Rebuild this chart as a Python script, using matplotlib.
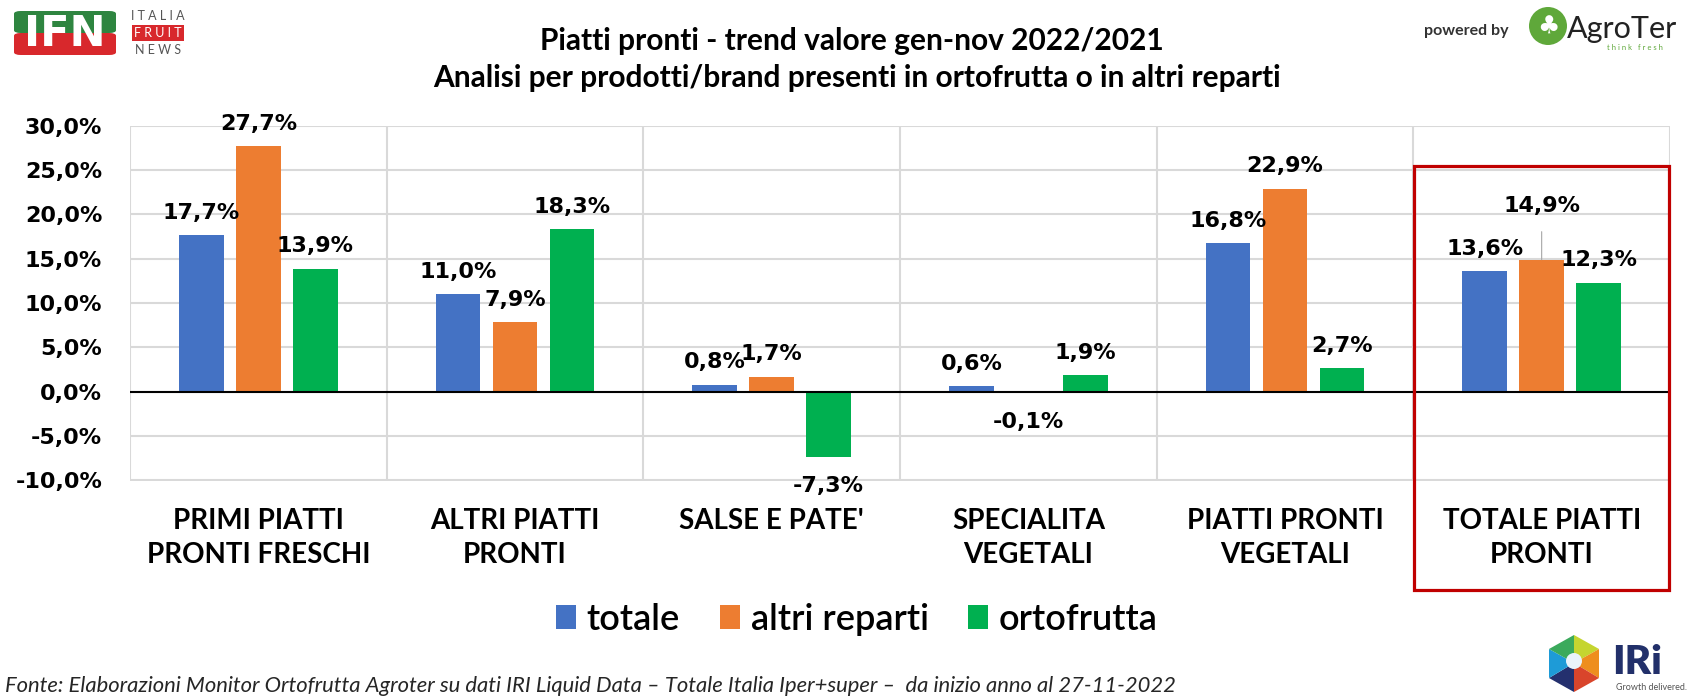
import matplotlib
matplotlib.use("Agg")
import matplotlib.pyplot as plt
import numpy as np
from matplotlib.patches import Rectangle, Ellipse, Polygon, FancyBboxPatch

plt.rcParams['font.family'] = ['Lato', 'DejaVu Sans']

# ---------------- data ----------------
categories = ["PRIMI PIATTI\nPRONTI FRESCHI", "ALTRI PIATTI\nPRONTI", "SALSE E PATE'",
              "SPECIALITA\nVEGETALI", "PIATTI PRONTI\nVEGETALI", "TOTALE PIATTI\nPRONTI"]
series_names = ["totale", "altri reparti", "ortofrutta"]
totale = [17.7, 11.0, 0.8, 0.6, 16.8, 13.6]
altri_reparti = [27.7, 7.9, 1.7, -0.1, 22.9, 14.9]
ortofrutta = [13.9, 18.3, -7.3, 1.9, 2.7, 12.3]
yticks = [-10, -5, 0, 5, 10, 15, 20, 25, 30]

title_lines = ["Piatti pronti - trend valore gen-nov 2022/2021",
               "Analisi per prodotti/brand presenti in ortofrutta o in altri reparti"]
footnote = ("Fonte: Elaborazioni Monitor Ortofrutta Agroter su dati IRI Liquid Data \u2013 "
            "Totale Italia Iper+super \u2013  da inizio anno al 27-11-2022")

colors = ["#4472C4", "#ED7D31", "#00B050"]
W, H = 1695, 700
NUMFONT = ["DejaVu Sans"]
NUMSIZE = 16


def fx(px):
    return px / W


def fy(py):
    return 1 - py / H


fig = plt.figure(figsize=(W / 100, H / 100), dpi=100)
fig.patch.set_facecolor("white")
ax = fig.add_axes([fx(130), fy(480.5), fx(1670) - fx(130), fy(125.7) - fy(480.5)])

x = np.arange(len(categories))
offset = 0.222
width = 0.175
series = [totale, altri_reparti, ortofrutta]
bars = []
for i, (vals, col, name) in enumerate(zip(series, colors, series_names)):
    b = ax.bar(x + (i - 1) * offset, vals, width=width, color=col, label=name, zorder=3)
    bars.append(b)

ax.set_xlim(-0.5, len(categories) - 0.5)
ax.set_ylim(-10, 30)
grid_col = "#D9D9D9"
for yv in yticks:
    ax.axhline(yv, color=grid_col, lw=1.5, zorder=1)
for xv in np.arange(-0.5, len(categories), 1.0):
    ax.axvline(xv, color=grid_col, lw=1.5, zorder=1)
ax.axhline(0, color="black", lw=1.5, zorder=4)
for s in ax.spines.values():
    s.set_visible(False)

ax.set_yticks(yticks)
ax.set_yticklabels([("%.1f%%" % v).replace(".", ",") for v in yticks],
                   fontsize=NUMSIZE, fontweight="bold", family=NUMFONT)
ax.set_xticks(x)
ax.set_xticklabels(categories, fontsize=20, fontweight="bold", linespacing=1.35)
ax.tick_params(axis="y", length=0, pad=20)
ax.tick_params(axis="x", length=0, pad=20)

# data labels
for i, vals in enumerate(series):
    for j, v in enumerate(vals):
        xx = x[j] + (i - 1) * offset
        txt = ("%.1f%%" % v).replace(".", ",")
        kw = dict(ha="center", va="center", fontsize=NUMSIZE, fontweight="bold",
                  family=NUMFONT, zorder=6)
        if i == 1 and j == 5:
            # label moved up with leader line
            ax.annotate(txt, xy=(xx, v), xytext=(xx, v + 6.0),
                        arrowprops=dict(arrowstyle="-", color="#A6A6A6", lw=0.8,
                                        shrinkA=9, shrinkB=0), **kw)
        elif v >= 0:
            ax.annotate(txt, xy=(xx, v), xytext=(0, 16), textcoords="offset points", **kw)
        else:
            ax.annotate(txt, xy=(xx, v), xytext=(0, -21), textcoords="offset points", **kw)

# red highlight box
fig.add_artist(Rectangle((fx(1414), fy(590)), fx(1669) - fx(1414), fy(166) - fy(590),
                         transform=fig.transFigure, fill=False, ec="#C00000", lw=2.3,
                         zorder=10))

# title
fig.text(fx(852), fy(41), title_lines[0], ha="center", va="center", fontsize=21.5,
         fontweight="bold")
fig.text(fx(857), fy(78), title_lines[1], ha="center", va="center", fontsize=21.5,
         fontweight="bold")

# legend
fig.legend(handles=bars, labels=series_names, loc="center", bbox_to_anchor=(fx(857), fy(619)),
           ncol=3, frameon=False, prop=dict(size=26, weight="semibold"),
           handlelength=0.55, handleheight=0.65, handletextpad=0.3, columnspacing=1.1)

# footnote
fig.text(fx(5), fy(686), footnote, ha="left", va="center", fontsize=15.8, style="italic",
         color="#262626")

# ---- IFN logo ----
fig.add_artist(FancyBboxPatch((fx(14), fy(33)), fx(116) - fx(14), fy(11) - fy(33),
                              boxstyle="round,pad=0,rounding_size=0.004",
                              transform=fig.transFigure, fc="#2E8540", ec="none"))
fig.add_artist(FancyBboxPatch((fx(14), fy(55)), fx(116) - fx(14), fy(33) - fy(55),
                              boxstyle="round,pad=0,rounding_size=0.004",
                              transform=fig.transFigure, fc="#D8282C", ec="none"))
fig.text(fx(65), fy(34), "IFN", ha="center", va="center", fontsize=31, fontweight="heavy",
         color="white", family=["DejaVu Sans"])
fig.text(fx(158), fy(16), "I T A L I A", ha="center", va="center", fontsize=9,
         color="#555555")
fig.add_artist(Rectangle((fx(132), fy(41)), fx(184) - fx(132), fy(25) - fy(41),
                         transform=fig.transFigure, fc="#D8282C", ec="none"))
fig.text(fx(158), fy(33), "F R U I T", ha="center", va="center", fontsize=9,
         color="white")
fig.text(fx(158), fy(50), "N E W S", ha="center", va="center", fontsize=9,
         color="#555555")

# ---- AgroTer logo ----
fig.text(fx(1466), fy(31), "powered by", ha="center", va="center", fontsize=11.5,
         fontweight="bold", color="#333333")
fig.add_artist(Ellipse((fx(1548), fy(26)), 38 / W, 38 / H, transform=fig.transFigure,
                       fc="#5FA83A", ec="none"))
fig.text(fx(1548), fy(27), "\u2663", ha="center", va="center", fontsize=18, color="white",
         family=["DejaVu Sans"])
fig.text(fx(1622), fy(29), "AgroTer", ha="center", va="center", fontsize=22, color="#222222")
fig.text(fx(1635), fy(47), "t h i n k   f r e s h", ha="center", va="center", fontsize=5.5,
         color="#5FA83A")

# ---- IRi logo ----
cx, cy = 1574, 663
pts = {
    "t": (cx, 635), "tr": (cx + 25, 649), "br": (cx + 25, 678), "b": (cx, 692),
    "bl": (cx - 25, 678), "tl": (cx - 25, 649), "c": (cx, 663),
}
facets = [("t", "tr", "c", "#C5D530"), ("tr", "br", "c", "#EE8E1E"),
          ("br", "b", "c", "#D9452B"), ("b", "bl", "c", "#24306E"),
          ("bl", "tl", "c", "#1E9BD7"), ("tl", "t", "c", "#3BAA5C")]
for a, b_, c_, col in facets:
    fig.add_artist(Polygon([(fx(pts[a][0]), fy(pts[a][1])), (fx(pts[b_][0]), fy(pts[b_][1])),
                            (fx(pts[c_][0]), fy(pts[c_][1]))], closed=True,
                           transform=fig.transFigure, fc=col, ec="none"))
fig.add_artist(Ellipse((fx(cx), fy(cy - 2)), 16 / W, 16 / H, transform=fig.transFigure,
                       fc="#EAF3FA", ec="none"))
fig.text(fx(1637), fy(663), "IRi", ha="center", va="center", fontsize=29,
         fontweight="heavy", color="#22306A")
fig.text(fx(1651), fy(688), "Growth delivered.", ha="center", va="center", fontsize=6.5,
         color="#555555")

fig.savefig("out.png", dpi=100, facecolor="white")
